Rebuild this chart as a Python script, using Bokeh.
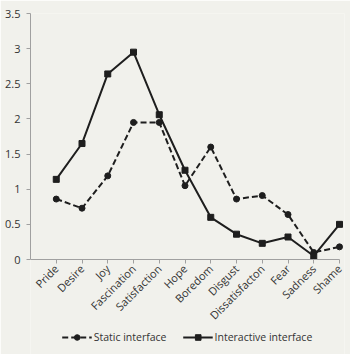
from bokeh.plotting import figure
from bokeh.models import FixedTicker, Legend, LegendItem, ColumnDataSource
from bokeh.embed import file_html
from bokeh.resources import INLINE
import math

categories = ["Pride", "Desire", "Joy", "Fascination", "Satisfaction", "Hope",
              "Boredom", "Disgust", "Dissatisfacton", "Fear", "Sadness", "Shame"]
static_vals = [0.86, 0.73, 1.19, 1.95, 1.95, 1.05, 1.6, 0.86, 0.91, 0.64, 0.1, 0.18]
interactive_vals = [1.14, 1.65, 2.64, 2.95, 2.06, 1.27, 0.6, 0.36, 0.23, 0.32, 0.05, 0.5]
y_ticks = [0, 0.5, 1, 1.5, 2, 2.5, 3, 3.5]

xs = list(range(1, len(categories) + 1))
src = ColumnDataSource(dict(x=xs, s=static_vals, i=interactive_vals))

# layout: plot area 246 px tall for 0..3.5, 95 px below it for labels + legend
Y_MAX = 3.5
y_min = -Y_MAX * 95 / 246
N = len(categories)
x_max = N * 314 / 309  # small room on the right so the last markers are not clipped

BG = "#f1f1ec"
DARK = "#1e1e1e"
p = figure(width=350, height=354, output_backend="svg", toolbar_location=None,
           x_range=(0, x_max), y_range=(y_min, Y_MAX),
           background_fill_color=BG, border_fill_color=BG)
p.min_border_left = 30
p.min_border_right = 6
p.min_border_top = 13
p.min_border_bottom = 0
p.outline_line_color = None
p.xgrid.visible = False
p.ygrid.visible = False

sl = p.line("x", "s", source=src, line_color=DARK, line_width=2, line_dash="6 3")
sm = p.scatter("x", "s", source=src, marker="circle", size=6, fill_color=DARK, line_color=DARK)
il = p.line("x", "i", source=src, line_color=DARK, line_width=2)
im = p.scatter("x", "i", source=src, marker="square", size=6, fill_color=DARK, line_color=DARK)

p.xaxis.ticker = FixedTicker(ticks=xs)
p.xaxis.major_label_overrides = {x: c for x, c in zip(xs, categories)}
p.xaxis.major_label_orientation = math.pi / 4
p.xaxis.fixed_location = 0
p.xaxis.bounds = (0, N)
p.yaxis.ticker = FixedTicker(ticks=y_ticks)
p.yaxis.major_label_overrides = {0: "0", 1: "1", 2: "2", 3: "3"}
p.yaxis.bounds = (0, Y_MAX)

for ax in (p.xaxis[0], p.yaxis[0]):
    ax.axis_line_color = "#a0a0a0"
    ax.major_tick_line_color = "#a0a0a0"
    ax.major_tick_out = 4
    ax.major_tick_in = 0
    ax.minor_tick_line_color = None
    ax.major_label_text_font = "Open Sans"
    ax.major_label_text_font_size = "11px"
    ax.major_label_text_color = "#333333"
p.yaxis.major_label_standoff = 6
p.xaxis.major_label_standoff = 3

legend = Legend(items=[LegendItem(label="Static interface", renderers=[sl, sm]),
                       LegendItem(label="Interactive interface", renderers=[il, im])],
                orientation="horizontal", location="bottom_center",
                background_fill_alpha=0, border_line_color=None,
                label_text_font="Open Sans", label_text_font_size="10.5px",
                label_text_color="#333333", glyph_width=30, glyph_height=14,
                label_height=14, spacing=16,
                label_standoff=2, padding=0, margin=10)
p.add_layout(legend, "center")

open("out.html", "w").write(file_html(p, INLINE))
